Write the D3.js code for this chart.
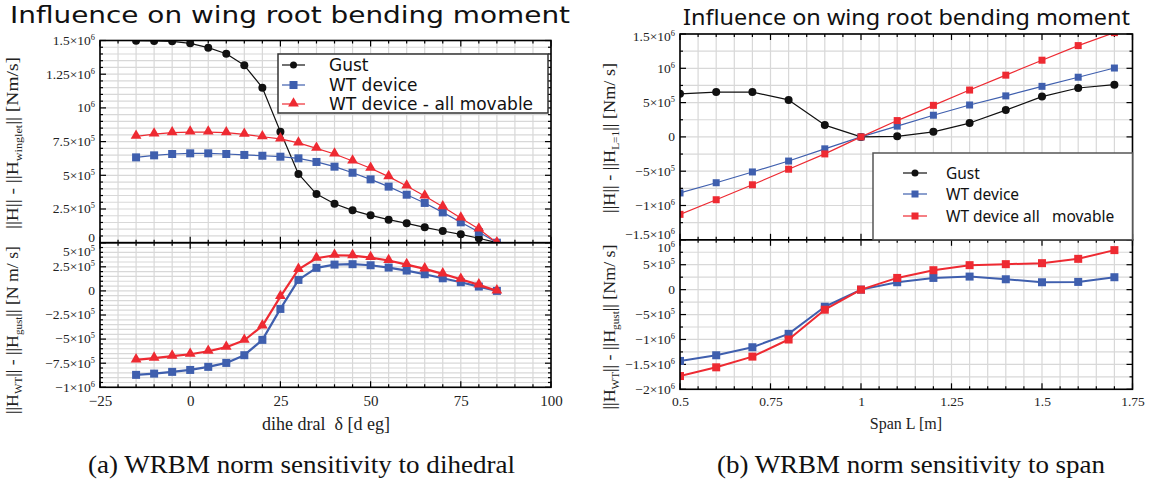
<!DOCTYPE html>
<html>
<head>
<meta charset="utf-8">
<script src="https://cdn.jsdelivr.net/npm/d3@7"></script>
<style>
  html, body { margin: 0; padding: 0; background: #fff; }
  svg { display: block; }
</style>
</head>
<body>
<svg id="fig" width="1150" height="486"></svg>
<script>
// ---- (a) dihedral sweep ----
const dihedral = [-15, -10, -5, 0, 5, 10, 15, 20, 25, 30, 35, 40, 45, 50, 55, 60, 65, 70, 75, 80, 85];
const gustVsWinglet = [1.498e6, 1.497e6, 1.494e6, 1.479e6, 1.447e6, 1.402e6, 1.316e6, 1.150e6, 0.823e6, 0.510e6,
  0.361e6, 0.289e6, 0.240e6, 0.203e6, 0.171e6, 0.144e6, 0.114e6, 0.087e6, 0.062e6, 0.033e6, 0];
const wtVsWinglet = [0.633e6, 0.648e6, 0.658e6, 0.663e6, 0.663e6, 0.658e6, 0.651e6, 0.645e6, 0.638e6, 0.626e6,
  0.599e6, 0.564e6, 0.519e6, 0.470e6, 0.416e6, 0.356e6, 0.295e6, 0.225e6, 0.151e6, 0.079e6, 0];
const movableVsWinglet = [0.789e6, 0.806e6, 0.816e6, 0.821e6, 0.821e6, 0.816e6, 0.804e6, 0.786e6, 0.770e6, 0.740e6,
  0.700e6, 0.658e6, 0.606e6, 0.552e6, 0.490e6, 0.421e6, 0.346e6, 0.267e6, 0.183e6, 0.102e6, 0];
const wtVsGustA = [-0.871e6, -0.858e6, -0.840e6, -0.820e6, -0.788e6, -0.747e6, -0.667e6, -0.508e6, -0.187e6, 0.114e6,
  0.239e6, 0.273e6, 0.277e6, 0.266e6, 0.242e6, 0.211e6, 0.173e6, 0.131e6, 0.090e6, 0.045e6, 0];
const movableVsGustA = [-0.716e6, -0.698e6, -0.677e6, -0.657e6, -0.626e6, -0.584e6, -0.512e6, -0.363e6, -0.059e6, 0.223e6,
  0.339e6, 0.370e6, 0.366e6, 0.346e6, 0.315e6, 0.273e6, 0.228e6, 0.176e6, 0.121e6, 0.062e6, 0];

// ---- (b) span sweep ----
const span = [0.5, 0.6, 0.7, 0.8, 0.9, 1.0, 1.1, 1.2, 1.3, 1.4, 1.5, 1.6, 1.7];
const gustVsUnit = [0.628e6, 0.653e6, 0.653e6, 0.539e6, 0.172e6, 0, 0.009e6, 0.074e6, 0.202e6, 0.391e6, 0.588e6, 0.713e6, 0.762e6];
const wtVsUnit = [-0.817e6, -0.668e6, -0.511e6, -0.352e6, -0.174e6, 0, 0.157e6, 0.316e6, 0.465e6, 0.598e6, 0.737e6, 0.870e6, 1.004e6];
const movableVsUnit = [-1.129e6, -0.916e6, -0.698e6, -0.471e6, -0.248e6, 0, 0.238e6, 0.460e6, 0.683e6, 0.900e6, 1.118e6, 1.331e6, 1.520e6];
const wtVsGustB = [-1.431e6, -1.317e6, -1.156e6, -0.887e6, -0.343e6, 0, 0.148e6, 0.235e6, 0.262e6, 0.208e6, 0.148e6, 0.155e6, 0.249e6];
const movableVsGustB = [-1.734e6, -1.559e6, -1.344e6, -1.001e6, -0.403e6, 0, 0.235e6, 0.390e6, 0.491e6, 0.511e6, 0.531e6, 0.618e6, 0.793e6];

// ---- tick values ----
const dihedralTicks = [-25, 0, 25, 50, 75, 100];
const spanTicks = [0.5, 0.75, 1, 1.25, 1.5, 1.75];
const aTopTicks = [0, 2.5e5, 5e5, 7.5e5, 1e6, 1.25e6, 1.5e6];
const aBotTicks = [-1e6, -7.5e5, -5e5, -2.5e5, 0, 2.5e5, 5e5];
const bTopTicks = [-1.5e6, -1e6, -5e5, 0, 5e5, 1e6, 1.5e6];
const bBotTicks = [-2e6, -1.5e6, -1e6, -5e5, 0, 5e5, 1e6];

const legendA = ["Gust", "WT device", "WT device - all movable"];
const legendB = ["Gust", "WT device", "WT device all   movable"];

const BLACK = "#111", BLUE = "#3f5fae", RED = "#ee2a32";
const SERIF = "'Liberation Serif', 'Times New Roman', serif";
const GRID = "#d8d8d8";

const svg = d3.select("#fig");
let clipId = 0;

// Scientific label: 1.5×10⁶, 10⁶, −5×10⁵, 0
function sciLabel(sel, v) {
  sel.text(null);
  if (v === 0) { sel.append("tspan").text("0"); return; }
  const e = Math.floor(Math.log10(Math.abs(v)) + 1e-9);
  const m = +(v / Math.pow(10, e)).toFixed(2);
  const mant = m === 1 ? "" : (String(m).replace("-", "\u2212") + "\u00d7");
  sel.append("tspan").text(mant + "10");
  sel.append("tspan").attr("dy", -5).attr("font-size", "0.62em").text(e);
}

function marker(g, shape, color, cx, cy, size) {
  if (shape === "circle") {
    g.append("circle").attr("cx", cx).attr("cy", cy).attr("r", size / 2).attr("fill", color);
  } else if (shape === "square") {
    g.append("rect").attr("x", cx - size / 2).attr("y", cy - size / 2)
      .attr("width", size).attr("height", size).attr("fill", color);
  } else {
    const sym = d3.symbol().type(d3.symbolTriangle).size(size * size * 0.62);
    g.append("path").attr("d", sym()).attr("transform", `translate(${cx},${cy - 0.6})`).attr("fill", color);
  }
}

// One framed panel with grid, inward ticks and series
function panel(cfg) {
  const { x, y0, y1, domain, xGrid, yGrid, yMajor, yLabelTicks, series, edgeShift } = cfg;
  const y = d3.scaleLinear().domain(domain).range([y1, y0]);
  const [xa, xb] = x.range();
  const g = svg.append("g");

  // grid
  g.selectAll(".gx").data(xGrid).join("line")
    .attr("x1", d => x(d)).attr("x2", d => x(d)).attr("y1", y0).attr("y2", y1)
    .attr("stroke", GRID).attr("stroke-width", 1.2);
  g.selectAll(".gy").data(yGrid).join("line")
    .attr("x1", xa).attr("x2", xb).attr("y1", d => y(d)).attr("y2", d => y(d))
    .attr("stroke", GRID).attr("stroke-width", 1.2);

  // inward ticks on all four edges
  const tk = g.append("g").attr("stroke", "#000").attr("stroke-width", 1.2);
  yGrid.forEach(d => {
    const len = yMajor.includes(d) ? 6 : 3;
    tk.append("line").attr("x1", xa).attr("x2", xa + len).attr("y1", y(d)).attr("y2", y(d));
    tk.append("line").attr("x1", xb).attr("x2", xb - len).attr("y1", y(d)).attr("y2", y(d));
  });
  xGrid.forEach(d => {
    const len = cfg.xMajor.includes(d) ? 6 : 3;
    tk.append("line").attr("x1", x(d)).attr("x2", x(d)).attr("y1", y0).attr("y2", y0 + len);
    tk.append("line").attr("x1", x(d)).attr("x2", x(d)).attr("y1", y1).attr("y2", y1 - len);
  });

  // left axis labels
  const ax = g.append("g").attr("transform", `translate(${xa},0)`)
    .call(d3.axisLeft(y).tickValues(yLabelTicks).tickSize(0).tickPadding(5));
  ax.select(".domain").remove();
  ax.selectAll("text").attr("font-family", SERIF).attr("font-size", 13.5).attr("fill", "#222")
    .each(function (d) { sciLabel(d3.select(this), d); });
  ax.selectAll(".tick").attr("transform", d => {
    let yy = y(d);
    if (d === domain[0]) yy -= edgeShift[0];
    if (d === domain[1]) yy += edgeShift[1];
    return `translate(0,${yy})`;
  });

  // series
  const id = "clip" + (clipId++);
  svg.append("clipPath").attr("id", id).append("rect")
    .attr("x", xa).attr("y", y0).attr("width", xb - xa).attr("height", y1 - y0);
  const s = g.append("g").attr("clip-path", `url(#${id})`);
  series.forEach(se => {
    const pts = se.xs.map((xv, i) => [x(xv), y(se.ys[i])]);
    s.append("path").attr("d", d3.line()(pts)).attr("fill", "none")
      .attr("stroke", se.color).attr("stroke-width", se.width).attr("stroke-linejoin", "round");
    const mg = s.append("g");
    pts.forEach(p => marker(mg, se.shape, se.color, p[0], p[1], se.size));
  });

  // frame
  g.append("rect").attr("x", xa).attr("y", y0).attr("width", xb - xa).attr("height", y1 - y0)
    .attr("fill", "none").attr("stroke", "#000").attr("stroke-width", 1.6);
  return { g, y };
}

function legend(box, entries, font) {
  const g = svg.append("g");
  g.append("rect").attr("x", box.x).attr("y", box.y).attr("width", box.w).attr("height", box.h)
    .attr("fill", "#fff").attr("stroke", box.stroke).attr("stroke-width", 1.5);
  entries.forEach((e, i) => {
    const yy = box.rows[i];
    g.append("line").attr("x1", box.lx0).attr("x2", box.lx1).attr("y1", yy).attr("y2", yy)
      .attr("stroke", e.color).attr("stroke-width", 1.2);
    marker(g, e.shape, e.color, (box.lx0 + box.lx1) / 2, yy, e.size);
    g.append("text").attr("x", box.tx).attr("y", yy).attr("dy", "0.36em")
      .attr("font-family", font).attr("font-size", box.fs).attr("fill", "#111")
      .attr("xml:space", "preserve").style("white-space", "pre").text(e.label);
  });
}

function yTitle(cx, cy, len, parts) {
  const t = svg.append("text").attr("transform", `translate(${cx},${cy}) rotate(-90)`)
    .attr("text-anchor", "middle").attr("font-family", SERIF).attr("font-size", 16).attr("fill", "#222")
    .attr("textLength", len).attr("lengthAdjust", "spacingAndGlyphs");
  parts.forEach(p => {
    const ts = t.append("tspan").text(p.t);
    if (p.sub) ts.attr("font-size", 10).attr("dy", 4);
    if (p.back) ts.attr("dy", -4);
  });
}

// =================== (a) ===================
const xA = d3.scaleLinear().domain([-25, 100]).range([100, 551]);
const aGridX = d3.range(-25, 101, 5);
panel({
  x: xA, y0: 40.5, y1: 242.7, domain: [0, 1.5e6],
  xGrid: aGridX, xMajor: dihedralTicks,
  yGrid: d3.range(0, 1.5e6 + 1, 5e4), yMajor: aTopTicks, yLabelTicks: aTopTicks,
  edgeShift: [5, 0],
  series: [
    { xs: dihedral, ys: gustVsWinglet, color: BLACK, shape: "circle", size: 8, width: 1.2 },
    { xs: dihedral, ys: wtVsWinglet, color: BLUE, shape: "square", size: 8, width: 1.2 },
    { xs: dihedral, ys: movableVsWinglet, color: RED, shape: "triangle", size: 9, width: 1.2 }
  ]
});
panel({
  x: xA, y0: 242.7, y1: 387.3, domain: [-1e6, 5e5],
  xGrid: aGridX, xMajor: dihedralTicks,
  yGrid: d3.range(-1e6, 5e5 + 1, 5e4), yMajor: aBotTicks, yLabelTicks: aBotTicks,
  edgeShift: [0, 9],
  series: [
    { xs: dihedral, ys: wtVsGustA, color: BLUE, shape: "square", size: 8, width: 2.2 },
    { xs: dihedral, ys: movableVsGustA, color: RED, shape: "triangle", size: 9, width: 2.2 }
  ]
});
const axA = svg.append("g").attr("transform", "translate(0,387.3)")
  .call(d3.axisBottom(xA).tickValues(dihedralTicks).tickSize(0).tickPadding(8)
    .tickFormat(d => String(d).replace("-", "\u2212")));
axA.select(".domain").remove();
axA.selectAll("text").attr("font-family", SERIF).attr("font-size", 15).attr("fill", "#222");

legend({ x: 278, y: 54, w: 270, h: 59, stroke: "#333", rows: [65, 85, 104], lx0: 282, lx1: 305, tx: 329, fs: 17 },
  legendA.map((l, i) => ({ label: l, color: [BLACK, BLUE, RED][i], shape: ["circle", "square", "triangle"][i], size: [7, 8, 9][i] })),
  "'DejaVu Sans', Verdana, sans-serif");

yTitle(18, 143, 172, [{ t: "||H|| - ||H" }, { t: "winglet", sub: true }, { t: "|| [Nm/s]", back: true }]);
yTitle(18, 330, 168, [{ t: "||H" }, { t: "WT", sub: true }, { t: "|| - ||H", back: true }, { t: "gust", sub: true }, { t: "|| [N m/ s]", back: true }]);

svg.append("text").attr("x", 326).attr("y", 430).attr("text-anchor", "middle")
  .attr("font-family", SERIF).attr("font-size", 18).attr("fill", "#222")
  .attr("xml:space", "preserve").style("white-space", "pre").text("dihe dral  \u03b4 [d eg]");

svg.append("text").attr("x", 10).attr("y", 23).attr("font-family", "'DejaVu Sans', Verdana, sans-serif")
  .attr("font-size", 23).attr("fill", "#111").attr("textLength", 560).attr("lengthAdjust", "spacingAndGlyphs")
  .text("Influence on wing root bending moment");

svg.append("text").attr("x", 88).attr("y", 473).attr("font-family", SERIF).attr("font-size", 25)
  .attr("fill", "#111").attr("textLength", 427).attr("lengthAdjust", "spacingAndGlyphs")
  .text("(a)  WRBM norm sensitivity to dihedral");

// =================== (b) ===================
const xB = d3.scaleLinear().domain([0.5, 1.75]).range([680, 1132.5]);
const bGridX = d3.range(0, 26).map(i => +(0.5 + i * 0.05).toFixed(2));
panel({
  x: xB, y0: 34, y1: 239.8, domain: [-1.5e6, 1.5e6],
  xGrid: bGridX, xMajor: spanTicks,
  yGrid: d3.range(-1.5e6, 1.5e6 + 1, 2.5e5), yMajor: bTopTicks, yLabelTicks: bTopTicks,
  edgeShift: [5, 3],
  series: [
    { xs: span, ys: gustVsUnit, color: BLACK, shape: "circle", size: 8, width: 1.2 },
    { xs: span, ys: wtVsUnit, color: BLUE, shape: "square", size: 7, width: 1.2 },
    { xs: span, ys: movableVsUnit, color: RED, shape: "square", size: 7, width: 1.2 }
  ]
});
panel({
  x: xB, y0: 239.8, y1: 389.3, domain: [-2e6, 1e6],
  xGrid: bGridX, xMajor: spanTicks,
  yGrid: d3.range(-2e6, 1e6 + 1, 2.5e5), yMajor: bBotTicks, yLabelTicks: bBotTicks,
  edgeShift: [0, 8],
  series: [
    { xs: span, ys: wtVsGustB, color: BLUE, shape: "square", size: 8, width: 2 },
    { xs: span, ys: movableVsGustB, color: RED, shape: "square", size: 8, width: 2 }
  ]
});
const axB = svg.append("g").attr("transform", "translate(0,389.3)")
  .call(d3.axisBottom(xB).tickValues(spanTicks).tickSize(0).tickPadding(7).tickFormat(d => String(d)));
axB.select(".domain").remove();
axB.selectAll("text").attr("font-family", SERIF).attr("font-size", 13.5).attr("fill", "#222");

legend({ x: 873, y: 153, w: 259.5, h: 86.8, stroke: "#555", rows: [173, 194, 216], lx0: 903, lx1: 927, tx: 946, fs: 15.5 },
  legendB.map((l, i) => ({ label: l, color: [BLACK, BLUE, RED][i], shape: ["circle", "square", "square"][i], size: [7, 7, 7][i] })),
  "'Noto Sans', 'Open Sans', sans-serif");

yTitle(615, 138, 150, [{ t: "||H|| - ||H" }, { t: "L=1", sub: true }, { t: "|| [Nm/ s]", back: true }]);
yTitle(615, 327, 165, [{ t: "||H" }, { t: "WT", sub: true }, { t: "|| - ||H", back: true }, { t: "gust", sub: true }, { t: "|| [Nm/ s]", back: true }]);

svg.append("text").attr("x", 906).attr("y", 429).attr("text-anchor", "middle")
  .attr("font-family", SERIF).attr("font-size", 16).attr("fill", "#222").text("Span L [m]");

svg.append("text").attr("x", 683).attr("y", 25).attr("font-family", "'Noto Sans', 'Open Sans', sans-serif")
  .attr("font-size", 21).attr("fill", "#111").attr("textLength", 447).attr("lengthAdjust", "spacingAndGlyphs")
  .text("Influence on wing root bending moment");

svg.append("text").attr("x", 717).attr("y", 473).attr("font-family", SERIF).attr("font-size", 25)
  .attr("fill", "#111").attr("textLength", 388).attr("lengthAdjust", "spacingAndGlyphs")
  .text("(b)  WRBM norm sensitivity to span");
</script>
</body>
</html>
